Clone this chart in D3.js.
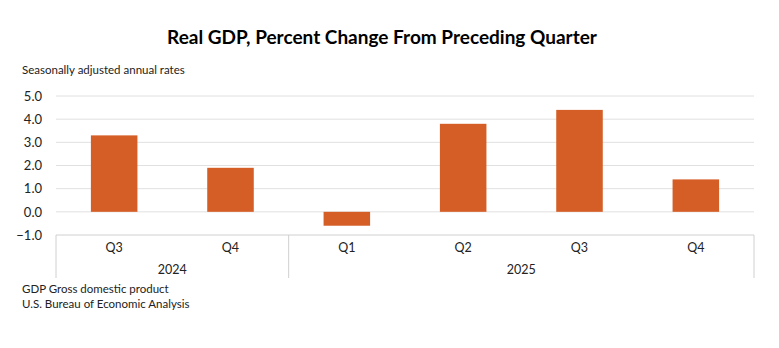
<!DOCTYPE html>
<html>
<head>
<meta charset="utf-8">
<script src="https://cdn.jsdelivr.net/npm/d3@7"></script>
<style>
  body { margin: 0; background: #fff; }
  svg { display: block; font-family: Lato, "Open Sans", sans-serif; }
</style>
</head>
<body>
<div id="chart"></div>
<script>
// data
var quarters = ["Q3", "Q4", "Q1", "Q2", "Q3", "Q4"];
var years = ["2024", "2024", "2025", "2025", "2025", "2025"];
var growth = [3.3, 1.9, -0.6, 3.8, 4.4, 1.4];
var yTicks = [-1, 0, 1, 2, 3, 4, 5];
var yearGroups = ["2024", "2025"];

var width = 779, height = 348;
var margin = {top: 96, right: 25, bottom: 113, left: 56};
var plotW = width - margin.left - margin.right;
var plotH = height - margin.top - margin.bottom;

var svg = d3.select("#chart").append("svg")
  .attr("width", width)
  .attr("height", height);

svg.append("text")
  .attr("x", 382).attr("y", 44)
  .attr("text-anchor", "middle")
  .style("font-size", "19px").style("font-weight", "bold")
  .text("Real GDP, Percent Change From Preceding Quarter");

svg.append("text")
  .attr("x", 22).attr("y", 74)
  .style("font-size", "11.5px").attr("fill", "#222")
  .text("Seasonally adjusted annual rates");

var g = svg.append("g")
  .attr("transform", "translate(" + margin.left + "," + margin.top + ")");

var x = d3.scaleBand()
  .domain(d3.range(growth.length))
  .range([0, plotW])
  .paddingInner(0.6).paddingOuter(0.3);

var y = d3.scaleLinear()
  .domain([-1, 5])
  .range([plotH, 0]);

// gridlines
g.selectAll(".grid")
  .data(yTicks.filter(function (d) { return d > -1; }))
  .enter().append("line")
  .attr("class", "grid")
  .attr("x1", 0).attr("x2", plotW)
  .attr("y1", function (d) { return y(d); })
  .attr("y2", function (d) { return y(d); })
  .attr("stroke", "#e0e0e0").attr("stroke-width", 1);

// y axis labels
var yAxis = d3.axisLeft(y)
  .tickValues(yTicks)
  .tickSize(0).tickPadding(14)
  .tickFormat(function (d) { return (d < 0 ? "\u2212" : "") + Math.abs(d).toFixed(1); });

g.append("g").call(yAxis)
  .call(function (s) { s.select(".domain").remove(); })
  .selectAll("text")
  .style("font-size", "13px").style("font-family", "Lato, sans-serif")
  .attr("fill", "#222");

// bars
g.selectAll(".bar")
  .data(growth)
  .enter().append("rect")
  .attr("class", "bar")
  .attr("x", function (d, i) { return x(i); })
  .attr("width", x.bandwidth())
  .attr("y", function (d) { return y(Math.max(0, d)); })
  .attr("height", function (d) { return Math.abs(y(d) - y(0)); })
  .attr("fill", "#d55e26");

// category axis
var axisG = g.append("g").attr("transform", "translate(0," + plotH + ")");
axisG.append("line")
  .attr("x1", 0).attr("x2", plotW)
  .attr("stroke", "#d0d0d0");

var step = x.step();
var groupBounds = yearGroups.map(function (yr) {
  var idx = d3.range(years.length).filter(function (i) { return years[i] === yr; });
  return {year: yr, start: d3.min(idx), end: d3.max(idx) + 1};
});
var edges = [0].concat(groupBounds.map(function (b) { return b.end; }));

axisG.selectAll(".sep")
  .data(edges)
  .enter().append("line")
  .attr("x1", function (d) { return d * plotW / years.length; })
  .attr("x2", function (d) { return d * plotW / years.length; })
  .attr("y1", 0).attr("y2", 43)
  .attr("stroke", "#d0d0d0");

axisG.selectAll(".qlab")
  .data(quarters)
  .enter().append("text")
  .attr("x", function (d, i) { return x(i) + x.bandwidth() / 2; })
  .attr("y", 17)
  .attr("text-anchor", "middle")
  .style("font-size", "12.5px").attr("fill", "#222")
  .text(function (d) { return d; });

axisG.selectAll(".ylab")
  .data(groupBounds)
  .enter().append("text")
  .attr("x", function (d) { return (d.start + d.end) / 2 * plotW / years.length; })
  .attr("y", 39)
  .attr("text-anchor", "middle")
  .style("font-size", "12.5px").attr("fill", "#222")
  .text(function (d) { return d.year; });

svg.append("text")
  .attr("x", 22).attr("y", 293)
  .style("font-size", "11.5px").attr("fill", "#222")
  .text("GDP Gross domestic product");
svg.append("text")
  .attr("x", 22).attr("y", 308)
  .style("font-size", "11.5px").attr("fill", "#222")
  .text("U.S. Bureau of Economic Analysis");
</script>
</body>
</html>
